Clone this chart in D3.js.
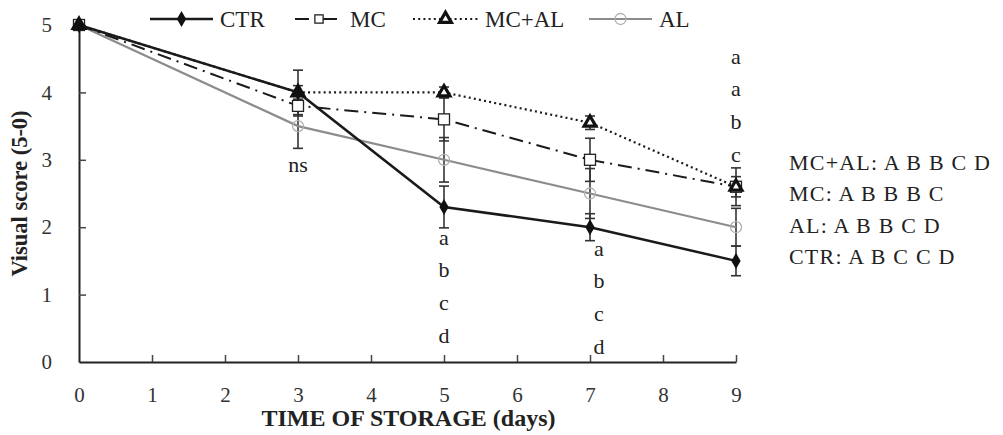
<!DOCTYPE html>
<html>
<head>
<meta charset="utf-8">
<script src="https://cdn.jsdelivr.net/npm/d3@7/dist/d3.min.js"></script>
<style>
  body { margin: 0; background: #fff; }
  svg { display: block; font-family: "Liberation Serif", "DejaVu Serif", serif; }
</style>
</head>
<body>
<div id="chart"></div>
<script>
// data
const days = [0, 3, 5, 7, 9];
const seriesNames = ['CTR', 'MC', 'MC+AL', 'AL'];
const ctrValues = [5, 4.0, 2.3, 2.0, 1.5];
const mcValues = [5, 3.8, 3.6, 3.0, 2.6];
const mcalValues = [5, 4.0, 4.0, 3.55, 2.6];
const alValues = [5, 3.5, 3.0, 2.5, 2.0];
const ctrErr = [0, 0.33, 0.31, 0.2, 0.22];
const mcErr = [0, 0.15, 0.32, 0.32, 0.28];
const mcalErr = [0, 0.1, 0.08, 0.1, 0.15];
const alErr = [0, 0.33, 0.33, 0.37, 0.28];
const xTicks = [0, 1, 2, 3, 4, 5, 6, 7, 8, 9];
const yTicks = [0, 1, 2, 3, 4, 5];
const dayLetters = [['ns'], ['a', 'b', 'c', 'd'], ['a', 'b', 'c', 'd'], ['a', 'a', 'b', 'c']];
const letterDays = [3, 5, 7, 9];
const rankLines = ['MC+AL: A B B C D', 'MC: A B B B C', 'AL: A B B C D', 'CTR: A B C C D'];

const width = 1003, height = 435;
const margin = { top: 25, right: 267, bottom: 73, left: 79 };
const serif = '"Liberation Serif", "DejaVu Serif", serif';

const svg = d3.select('#chart').append('svg')
    .attr('width', width)
    .attr('height', height);

const x = d3.scaleLinear().domain([0, 9]).range([margin.left, width - margin.right]);
const y = d3.scaleLinear().domain([0, 5]).range([height - margin.bottom, margin.top]);

const styles = {
    'CTR':   { values: ctrValues,  err: ctrErr,  color: '#1a1a1a', width: 2.5, dash: null },
    'MC':    { values: mcValues,   err: mcErr,   color: '#1a1a1a', width: 2,   dash: '14,6,2,6' },
    'MC+AL': { values: mcalValues, err: mcalErr, color: '#1a1a1a', width: 2.2, dash: '2,3.2' },
    'AL':    { values: alValues,   err: alErr,   color: '#8c8c8c', width: 2.2, dash: null }
};

// axes
const xAxis = svg.append('g')
    .attr('transform', `translate(0,${y(0)})`)
    .call(d3.axisBottom(x).tickValues(xTicks).tickFormat(d3.format('d'))
        .tickSizeInner(-7).tickSizeOuter(0).tickPadding(25));
const yAxis = svg.append('g')
    .attr('transform', `translate(${x(0)},0)`)
    .call(d3.axisLeft(y).tickValues(yTicks).tickFormat(d3.format('d'))
        .tickSizeInner(-7).tickSizeOuter(0).tickPadding(27));
[xAxis, yAxis].forEach(a => {
    a.attr('font-family', serif).attr('font-size', 21);
    a.select('.domain').attr('stroke', '#222').attr('stroke-width', 2);
    a.selectAll('.tick line').attr('stroke', '#444').attr('stroke-width', 1.5);
    a.selectAll('.tick text').attr('fill', '#333');
});
xAxis.selectAll('.tick').filter(d => d === 0).select('line').remove();
yAxis.selectAll('.tick').filter(d => d === 0).select('line').remove();

// axis titles
svg.append('text')
    .attr('x', (x(0) + x(9)) / 2 + 1)
    .attr('y', 426)
    .attr('text-anchor', 'middle')
    .style('font-size', '24px')
    .style('font-weight', 'bold')
    .attr('fill', '#222')
    .text('TIME OF STORAGE (days)');

svg.append('text')
    .attr('transform', `translate(27,${(y(0) + y(5)) / 2}) rotate(-90)`)
    .attr('text-anchor', 'middle')
    .style('font-size', '22.5px')
    .style('font-weight', 'bold')
    .attr('fill', '#222')
    .text('Visual score (5-0)');

// error bars
const bars = svg.append('g');
seriesNames.forEach(name => {
    const s = styles[name];
    days.forEach((d, i) => {
        const e = s.err[i];
        if (!e) return;
        const v = s.values[i];
        bars.append('line')
            .attr('x1', x(d)).attr('x2', x(d))
            .attr('y1', y(v + e)).attr('y2', y(v - e))
            .attr('stroke', '#333').attr('stroke-width', 1.6);
        [v + e, v - e].forEach(t => {
            bars.append('line')
                .attr('x1', x(d) - 5).attr('x2', x(d) + 5)
                .attr('y1', y(t)).attr('y2', y(t))
                .attr('stroke', '#333').attr('stroke-width', 1.6);
        });
    });
});

// lines
const line = d3.line().x(d => x(d[0])).y(d => y(d[1]));
seriesNames.slice().reverse().forEach(name => {
    const s = styles[name];
    svg.append('path')
        .datum(days.map((d, i) => [d, s.values[i]]))
        .attr('d', line)
        .attr('fill', 'none')
        .attr('stroke', s.color)
        .attr('stroke-width', s.width)
        .attr('stroke-dasharray', s.dash);
});

// markers
function drawMarker(g, name, cx, cy, k = 1) {
    if (name === 'CTR') {
        g.append('path').attr('d', d3.symbol(d3.symbolDiamond, 75 * k * k)())
            .attr('transform', `translate(${cx},${cy})`)
            .attr('fill', '#111');
    } else if (name === 'MC') {
        const h = 5.5 * k;
        g.append('rect').attr('x', cx - h).attr('y', cy - h)
            .attr('width', 2 * h).attr('height', 2 * h)
            .attr('fill', '#fff').attr('stroke', '#222').attr('stroke-width', 1.3);
    } else if (name === 'MC+AL') {
        g.append('path').attr('d', d3.symbol(d3.symbolTriangle, 60 * k * k)())
            .attr('transform', `translate(${cx},${cy})`)
            .attr('fill', '#fff').attr('stroke', '#111').attr('stroke-width', 3.2);
    } else {
        g.append('circle').attr('cx', cx).attr('cy', cy).attr('r', 5.5 * k)
            .attr('fill', 'none').attr('stroke', '#b0b0b0').attr('stroke-width', 1.3);
    }
}
const marks = svg.append('g');
['AL', 'MC', 'MC+AL', 'CTR'].forEach(name => {
    const s = styles[name];
    days.forEach((d, i) => drawMarker(marks, name, x(d), y(s.values[i])));
});

// significance letters
const letterStart = [165, 238, 249, 57];
const letterDx = [0, 0, 9, 0];
letterDays.forEach((d, k) => {
    dayLetters[k].forEach((t, j) => {
        svg.append('text')
            .attr('x', x(d) + letterDx[k])
            .attr('y', letterStart[k] + j * 32.7)
            .attr('dy', '0.3em')
            .attr('text-anchor', 'middle')
            .style('font-size', '22px')
            .attr('fill', '#222')
            .text(t);
    });
});

// rank text on the right
rankLines.forEach((t, j) => {
    svg.append('text')
        .attr('x', 789)
        .attr('y', 162 + j * 31.5)
        .attr('dy', '0.35em')
        .style('font-size', '22px')
        .style('letter-spacing', '1.2px')
        .attr('fill', '#222')
        .text(t);
});

// legend
const legendX = [150, 295, 413, 589];
const legendLen = [63, 48, 65, 63];
const legend = svg.append('g');
seriesNames.forEach((name, i) => {
    const s = styles[name];
    const lx = legendX[i], ly = 19;
    legend.append('line')
        .attr('x1', lx).attr('x2', lx + legendLen[i])
        .attr('y1', ly).attr('y2', ly)
        .attr('stroke', s.color).attr('stroke-width', s.width)
        .attr('stroke-dasharray', s.dash);
    drawMarker(legend, name, lx + legendLen[i] / 2, ly, name === 'MC' ? 0.75 : 1);
    legend.append('text')
        .attr('x', lx + legendLen[i] + 7)
        .attr('y', ly)
        .attr('dy', '0.35em')
        .style('font-size', '23px')
        .attr('fill', '#222')
        .text(name);
});
</script>
</body>
</html>
